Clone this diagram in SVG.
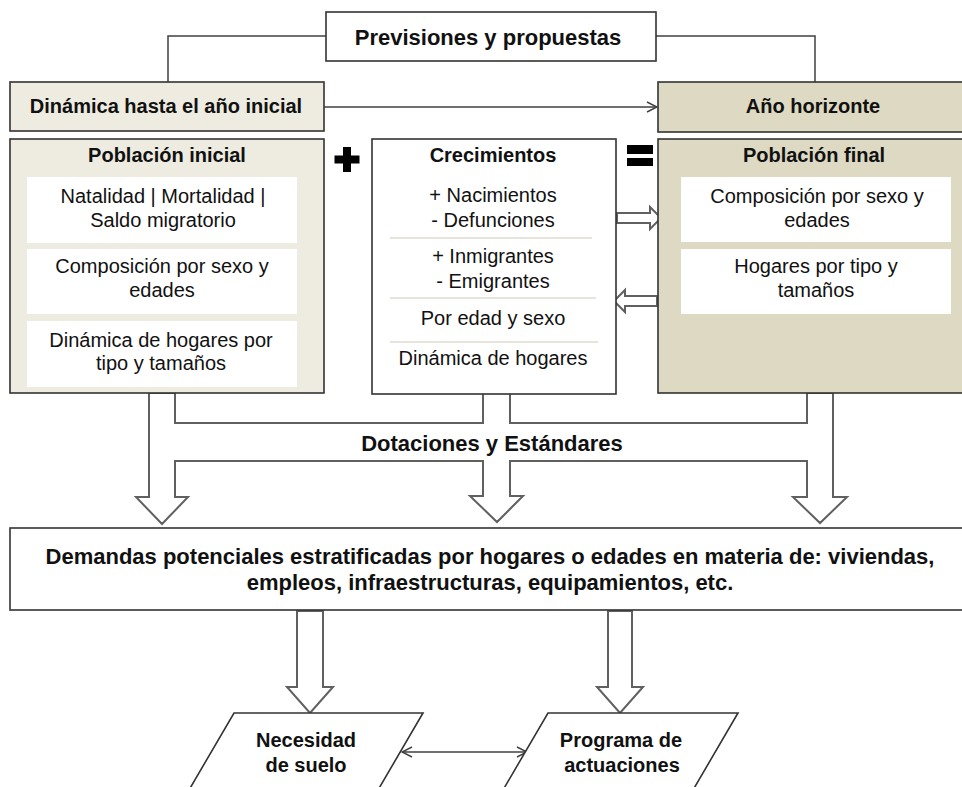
<svg xmlns="http://www.w3.org/2000/svg" width="962" height="787" viewBox="0 0 962 787">
<style>
  text { font-family: "Liberation Sans", Arial, sans-serif; fill: #111; }
  .b { font-weight: bold; font-size: 20px; text-anchor: middle; }
  .bl { font-weight: bold; font-size: 22px; text-anchor: middle; }
  .r { font-size: 20px; text-anchor: middle; }
  .box { stroke: #333; stroke-width: 1.6; }
  .light { fill: #EEECE1; }
  .dark { fill: #DDD9C3; }
  .white { fill: #ffffff; }
  .inner { fill: #ffffff; stroke: none; }
  .conn { fill: none; stroke: #404040; stroke-width: 1.5; }
  .blk { fill: #ffffff; stroke: #606060; stroke-width: 2; stroke-linejoin: miter; }
  .sep { stroke: #cfcbb8; stroke-width: 1.2; }
</style>
<defs>
  <marker id="open" viewBox="0 0 12 12" refX="11" refY="6" markerWidth="12" markerHeight="12" markerUnits="userSpaceOnUse" orient="auto-start-reverse">
    <path d="M1,1 L11,6 L1,11" fill="none" stroke="#404040" stroke-width="1.4"/>
  </marker>
</defs>

<g id="connectors">
  <polyline class="conn" points="326,36 168,36 168,82"/>
  <polyline class="conn" points="656,36 815,36 815,82"/>
  <line class="conn" x1="324" y1="107" x2="657" y2="107" marker-end="url(#open)"/>
  <line class="conn" x1="402" y1="752" x2="527" y2="752" marker-start="url(#open)" marker-end="url(#open)"/>
  <path id="dotaciones-arrows" class="blk" d="M149,393 L149,497 L136,497 L162,524 L188,497 L175,497 L175,461 L483,461 L483,496 L470,496 L497,522 L523,496 L510,496 L510,461 L807,461 L807,497 L793,497 L820,523 L847,497 L833,497 L833,393 L807,393 L807,423 L510,423 L510,393 L483,393 L483,423 L175,423 L175,393 Z"/>
  <path class="blk" d="M617,213 L650,213 L650,207 L661,218 L650,229 L650,223 L617,223 Z"/>
  <path class="blk" d="M657,296 L625,296 L625,290 L614,301 L625,312 L625,306 L657,306 Z"/>
  <path class="blk" d="M297,611 L297,687 L287,687 L310,713 L333,687 L323,687 L323,611 Z"/>
  <path class="blk" d="M608,611 L608,687 L597,687 L620,713 L643,687 L632,687 L632,611 Z"/>
</g>

<g id="previsiones">
  <rect class="box white" x="326" y="12" width="330" height="49"/>
  <text class="bl" x="488" y="45">Previsiones y propuestas</text>
</g>

<g id="dinamica">
  <rect class="box light" x="10" y="82" width="314" height="49"/>
  <text class="b" x="166" y="113">Dinámica hasta el año inicial</text>
</g>

<g id="horizonte">
  <rect class="box dark" x="658" y="82" width="310" height="50"/>
  <text class="b" x="813" y="113">Año horizonte</text>
</g>

<g id="poblacion-inicial">
  <rect class="box light" x="10" y="139" width="314" height="254"/>
  <text class="b" x="167" y="162">Población inicial</text>
  <rect class="inner" x="27" y="177" width="270" height="66"/>
  <text class="r" x="163" y="203">Natalidad | Mortalidad |</text>
  <text class="r" x="163" y="227">Saldo migratorio</text>
  <rect class="inner" x="27" y="249" width="270" height="65"/>
  <text class="r" x="162" y="273">Composición por sexo y</text>
  <text class="r" x="162" y="297">edades</text>
  <rect class="inner" x="27" y="321" width="270" height="66"/>
  <text class="r" x="161" y="347">Dinámica de hogares por</text>
  <text class="r" x="161" y="370">tipo y tamaños</text>
</g>

<g id="plus">
  <rect x="343" y="147" width="8" height="25" fill="#000"/>
  <rect x="334.5" y="155.5" width="25" height="8" fill="#000"/>
</g>

<g id="crecimientos">
  <rect class="box white" x="372" y="139" width="244" height="255"/>
  <text class="b" x="493" y="162">Crecimientos</text>
  <text class="r" x="493" y="202">+ Nacimientos</text>
  <text class="r" x="493" y="227">- Defunciones</text>
  <line class="sep" x1="390" y1="238" x2="592" y2="238"/>
  <text class="r" x="493" y="263">+ Inmigrantes</text>
  <text class="r" x="493" y="288">- Emigrantes</text>
  <line class="sep" x1="390" y1="298" x2="596" y2="298"/>
  <text class="r" x="493" y="325">Por edad y sexo</text>
  <line class="sep" x1="390" y1="342" x2="598" y2="342"/>
  <text class="r" x="493" y="365">Dinámica de hogares</text>
</g>

<g id="equals">
  <rect x="627" y="145" width="26" height="9" fill="#000"/>
  <rect x="627" y="158" width="26" height="8" fill="#000"/>
</g>

<g id="poblacion-final">
  <rect class="box dark" x="658" y="139" width="310" height="254"/>
  <text class="b" x="814" y="162">Población final</text>
  <rect class="inner" x="681" y="177" width="270" height="65"/>
  <text class="r" x="817" y="203">Composición por sexo y</text>
  <text class="r" x="817" y="227">edades</text>
  <rect class="inner" x="681" y="249" width="270" height="65"/>
  <text class="r" x="816" y="273">Hogares por tipo y</text>
  <text class="r" x="816" y="297">tamaños</text>
</g>

<g id="dotaciones-label">
  <text class="bl" x="492" y="451">Dotaciones y Estándares</text>
</g>

<g id="demandas">
  <rect class="box white" x="10" y="528" width="958" height="82"/>
  <text class="bl" x="490" y="564">Demandas potenciales estratificadas por hogares o edades en materia de: viviendas,</text>
  <text class="bl" x="490" y="590">empleos, infraestructuras, equipamientos, etc.</text>
</g>

<g id="necesidad">
  <polygon class="box white" points="234,713 423,713 371,802 182,802"/>
  <text class="b" x="306" y="747">Necesidad</text>
  <text class="b" x="306" y="772">de suelo</text>
</g>

<g id="programa">
  <polygon class="box white" points="548,713 738,713 686,802 496,802"/>
  <text class="b" x="621" y="747">Programa de</text>
  <text class="b" x="622" y="772">actuaciones</text>
</g>
</svg>
